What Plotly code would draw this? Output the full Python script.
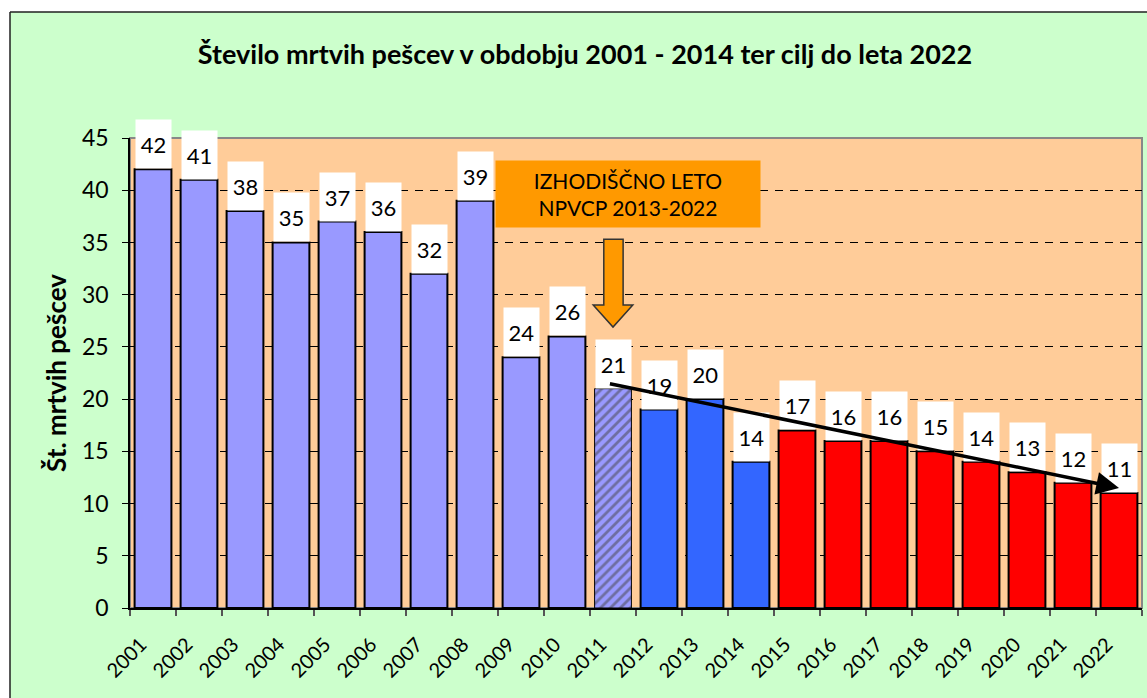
import plotly.graph_objects as go

# ---------------- data ----------------
years = list(range(2001, 2023))
deaths = [42, 41, 38, 35, 37, 36, 32, 39, 24, 26, 21, 19, 20, 14, 17, 16, 16, 15, 14, 13, 12, 11]
base_year = 2011
actual_last = 2014
trend_start = (2010.9, 21.5)
trend_end = (2022, 11.5)
title_text = "Število mrtvih pešcev v obdobju 2001 - 2014 ter cilj do leta 2022"
ytitle = "Št. mrtvih pešcev"
box_text = "IZHODIŠČNO LETO<br>NPVCP 2013-2022"

# ---------------- styles ----------------
C_OLD = "#9999FF"
C_ACT = "#3366FF"
C_TGT = "#FF0000"
FONT = "Lato"
W, H = 1147, 698
ML, MR, MT, MB = 130, 5, 138, 90
PW, PH = W - ML - MR, H - MT - MB

colors, lw, pshape = [], [], []
for y in years:
    if y < base_year:
        colors.append(C_OLD); lw.append(2); pshape.append("")
    elif y == base_year:
        colors.append(C_OLD); lw.append(1); pshape.append("/")
    elif y <= actual_last:
        colors.append(C_ACT); lw.append(2); pshape.append("")
    else:
        colors.append(C_TGT); lw.append(2); pshape.append("")

fig = go.Figure(go.Bar(
    x=years, y=deaths,
    marker=dict(color=colors, line=dict(color="black", width=lw),
                pattern=dict(shape=pshape, fgcolor=C_ACT, bgcolor=C_OLD, size=7, solidity=0.4)),
    width=0.8, hoverinfo="x+y",
))

def px_x(p):
    return (p - ML) / PW

def px_y(p):
    return (H - MB - p) / PH

shapes = []
# white strips outside chart border
shapes.append(dict(type="rect", xref="paper", yref="paper", x0=px_x(-5), x1=px_x(W + 5),
                   y0=px_y(12), y1=px_y(-5), fillcolor="white", line=dict(width=0), layer="below"))
shapes.append(dict(type="rect", xref="paper", yref="paper", x0=px_x(-5), x1=px_x(10),
                   y0=px_y(H + 5), y1=px_y(-5), fillcolor="white", line=dict(width=0), layer="below"))
# chart border lines
shapes.append(dict(type="line", xref="paper", yref="paper", x0=px_x(10), x1=px_x(W + 5),
                   y0=px_y(12), y1=px_y(12), line=dict(color="#202020", width=1.5)))
shapes.append(dict(type="line", xref="paper", yref="paper", x0=px_x(10), x1=px_x(10),
                   y0=px_y(12), y1=px_y(H + 5), line=dict(color="#202020", width=1.5)))
# plot area border (gray)
shapes.append(dict(type="rect", xref="paper", yref="paper", x0=0, x1=1, y0=0, y1=1,
                   line=dict(color="#888888", width=2), layer="below"))

# orange down arrow (data coords)
sx0, sx1 = base_year - 0.2, base_year + 0.22
hx0, hx1 = base_year - 0.43, base_year + 0.43
ytop, ybase, ytip = 35.3, 29.0, 26.9
path = (f"M {sx0},{ytop} L {sx1},{ytop} L {sx1},{ybase} L {hx1},{ybase} "
        f"L {base_year},{ytip} L {hx0},{ybase} L {sx0},{ybase} Z")
shapes.append(dict(type="path", xref="x", yref="y", path=path, fillcolor="#FF9900",
                   line=dict(color="#333333", width=1.5)))

annotations = []
for y, v in zip(years, deaths):
    annotations.append(dict(x=y, y=v, xref="x", yref="y", text=str(v), showarrow=False,
                            yanchor="bottom", bgcolor="white", width=33, height=46,
                            borderpad=1, borderwidth=1, bordercolor="rgba(0,0,0,0)",
                            font=dict(family=FONT, size=22, color="black")))
annotations.append(dict(x=base_year + 0.33, y=39.6, xref="x", yref="y", text=box_text,
                        showarrow=False, bgcolor="#FF9900", width=262, height=64, borderpad=1,
                        font=dict(family=FONT, size=21, color="black"), align="center"))
annotations.append(dict(x=trend_end[0], y=trend_end[1], ax=trend_start[0], ay=trend_start[1],
                        xref="x", yref="y", axref="x", ayref="y", text="", showarrow=True,
                        arrowhead=2, arrowsize=1.3, arrowwidth=3.5, arrowcolor="black"))

fig.update_layout(
    width=W, height=H,
    margin=dict(l=ML, r=MR, t=MT, b=MB),
    paper_bgcolor="#CCFFCC", plot_bgcolor="#FFCC99",
    font=dict(family=FONT, color="black"),
    title=dict(text=f"<b>{title_text}</b>", x=585 / W, xref="container", xanchor="center",
               y=1 - 55 / H, yref="container", yanchor="middle",
               font=dict(family=FONT, size=27, color="black")),
    showlegend=False,
    shapes=shapes, annotations=annotations,
    bargap=0.2,
)
fig.update_xaxes(
    range=[years[0] - 0.5, years[-1] + 0.5],
    tickvals=years, ticktext=[str(y) for y in years], tickangle=-45,
    tickfont=dict(family=FONT, size=20, color="black"),
    ticks="", showgrid=False, zeroline=False,
    showline=True, linecolor="black", linewidth=2,
    ticklabelstandoff=15, ticklabelshift=-12,
    minor=dict(tickvals=[y - 0.5 for y in years] + [years[-1] + 0.5], ticks="outside",
               ticklen=6, tickcolor="#555555", tickwidth=1.5, showgrid=False),
)
fig.update_yaxes(
    range=[0, 45], dtick=5, tick0=0,
    tickfont=dict(family=FONT, size=23, color="black"),
    ticks="outside", ticklen=6, tickcolor="black",
    ticklabelstandoff=9,
    showline=True, linecolor="black", linewidth=1.5,
    showgrid=True, gridcolor="black", gridwidth=1, griddash="8px,7px",
    zeroline=False,
    title=dict(text=f"<b>{ytitle}</b>", font=dict(family=FONT, size=26, color="black"), standoff=8),
)

fig.write_html("out.html", config={"displayModeBar": False},
               post_script="document.body.style.margin='0';")
